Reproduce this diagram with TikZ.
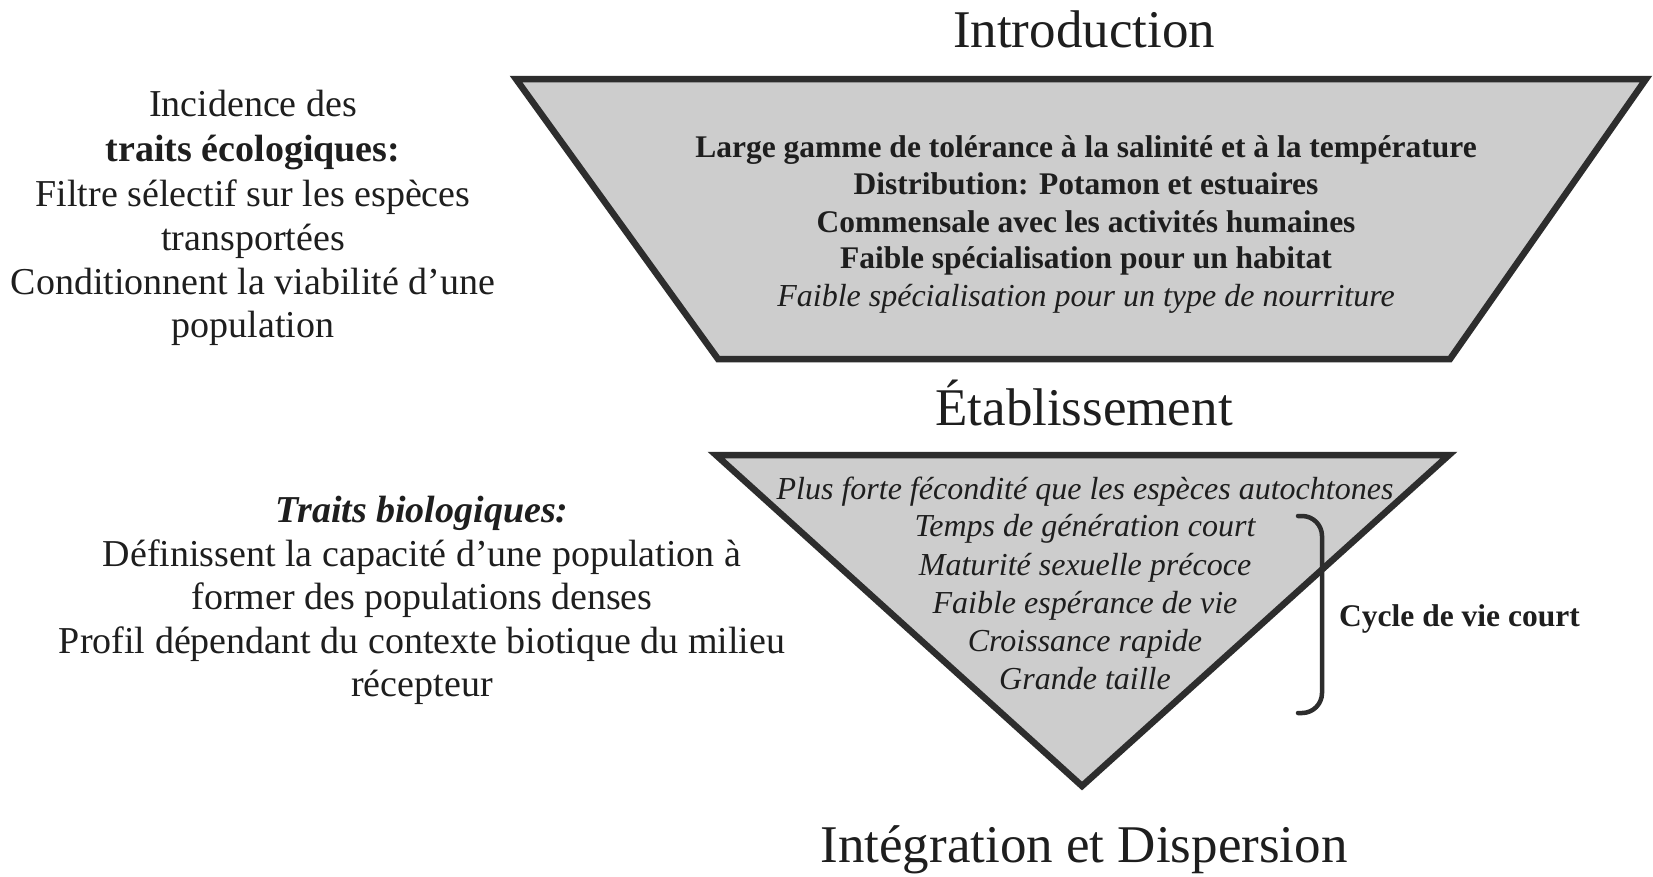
\documentclass[tikz,border=0pt]{standalone}
\usepackage{fontspec}
\setmainfont{Liberation Serif}
\definecolor{ink}{RGB}{30,30,30}
\definecolor{edgecol}{RGB}{45,45,45}
\definecolor{shade}{RGB}{205,205,205}
\begin{document}
\begin{tikzpicture}[x=1pt,y=-1pt,
  every node/.style={inner sep=0pt, text=ink},
  stagetitle/.style={font=\fontsize{53}{60}\selectfont, anchor=base},
  sideline/.style={font=\fontsize{38}{44}\selectfont, anchor=base},
  boldline/.style={font=\fontsize{31.5}{36}\selectfont\bfseries, anchor=base},
  itline/.style={font=\fontsize{32}{36}\selectfont\itshape, anchor=base},
  funnel/.style={draw=edgecol, fill=shade, line width=6.5pt, line join=miter},
  bracket/.style={draw=edgecol, line width=4.5pt, rounded corners=20pt, line cap=round}]
\useasboundingbox (0,0) rectangle (1653,876);
\fill[white] (0,0) rectangle (1653,876);

% shapes
\draw[funnel] (516,79) -- (1646,79) -- (1450,359) -- (718,359) -- cycle;
\draw[funnel] (716,455) -- (1449,455) -- (1082,786) -- cycle;

% stage titles
\node[stagetitle] (intro) at (1084,47) {Introduction};
\node[stagetitle] (etab) at (1084,425) {Établissement};
\node[stagetitle] (integ) at (1084,862) {Intégration et Dispersion};

% left block 1
\node[sideline] (l1a) at (253,116) {Incidence des};
\node[sideline] (l1b) at (253,161) {\bfseries traits écologiques:};
\node[sideline] (l1c) at (253,206) {Filtre sélectif sur les espèces};
\node[sideline] (l1d) at (253,250) {transportées};
\node[sideline] (l1e) at (253,294) {Conditionnent la viabilité d’une};
\node[sideline] (l1f) at (253,337) {population};

% left block 2
\node[sideline] (l2a) at (422,522) {\bfseries\itshape Traits biologiques:};
\node[sideline] (l2b) at (422,566) {Définissent la capacité d’une population à};
\node[sideline] (l2c) at (422,609) {former des populations denses};
\node[sideline] (l2d) at (422,653) {Profil dépendant du contexte biotique du milieu};
\node[sideline] (l2e) at (422,696) {récepteur};

% trapezoid text
\node[boldline] (t1) at (1086,157) {Large gamme de tolérance à la salinité et à la température};
\node[boldline] (t2) at (1086,194) {Distribution: Potamon et estuaires};
\node[boldline] (t3) at (1086,232) {Commensale avec les activités humaines};
\node[boldline] (t4) at (1086,268) {Faible spécialisation pour un habitat};
\node[itline] (t5) at (1086,306) {Faible spécialisation pour un type de nourriture};

% triangle text
\node[itline] (v1) at (1085,499) {Plus forte fécondité que les espèces autochtones};
\node[itline] (v2) at (1085,536) {Temps de génération court};
\node[itline] (v3) at (1085,575) {Maturité sexuelle précoce};
\node[itline] (v4) at (1085,613) {Faible espérance de vie};
\node[itline] (v5) at (1085,651) {Croissance rapide};
\node[itline] (v6) at (1085,689) {Grande taille};

% bracket and label
\coordinate (bt) at (1298,516);
\coordinate (bb) at (1298,713);
\draw[bracket] (bt) -- (1322,516) -- (1322,713) -- (bb);
\node[boldline, anchor=base west] (cycle) at (1339,626) {Cycle de vie court};
\end{tikzpicture}
\end{document}
